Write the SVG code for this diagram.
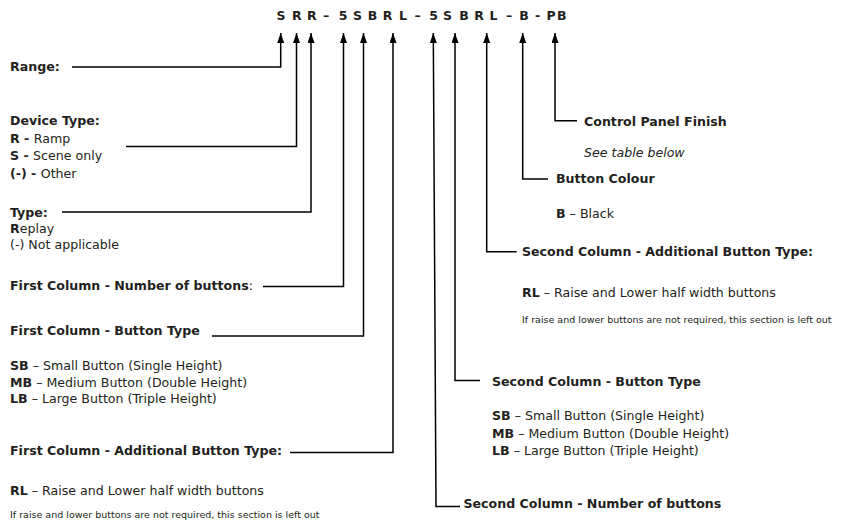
<svg xmlns="http://www.w3.org/2000/svg" width="849" height="520" viewBox="0 0 849 520">
<defs>
<style>
text{font-family:"DejaVu Sans","Verdana",sans-serif;fill:#231f20;font-size:12.6px}
.b{font-weight:bold}
.t{font-weight:bold;font-size:12.5px}
.s{font-size:9.5px}
.i{font-style:italic}
.c{fill:none;stroke:#000;stroke-width:1.5;marker-start:url(#ah)}
</style>
<marker id="ah" markerUnits="userSpaceOnUse" markerWidth="10" markerHeight="8" refX="10" refY="3.5" orient="auto-start-reverse">
<path d="M0,0 L10,3.5 L0,7 z" fill="#000"/>
</marker>
</defs>
<rect width="849" height="520" fill="#fff"/>
<g id="code">
<text class="t" text-anchor="middle" y="20" x="281 296.7 311.7 326 343 357.5 372.5 387.5 403 417.5 433.5 447.5 464 479 493.5 509 524 537.5 551 561.7">SRR–5SBRL–5SBRL–B-PB</text>
</g>
<g id="connectors">
<path class="c" d="M280.7,33 V67 H72"/>
<path class="c" d="M296.5,33 V146.5 H126"/>
<path class="c" d="M311,33 V212 H62"/>
<path class="c" d="M343.5,33 V286.5 H263"/>
<path class="c" d="M363.5,33 V336 H212"/>
<path class="c" d="M393,33 V452.5 H290"/>
<path class="c" d="M433.3,33 L436,506.5 H460"/>
<path class="c" d="M455,33 V380.5 H480"/>
<path class="c" d="M486.7,33 V251.7 H516.7"/>
<path class="c" d="M522.7,33 V179 H548"/>
<path class="c" d="M555,33 V120.7 H577"/>
</g>
<g id="range"><text class="b" x="10" y="71">Range:</text></g>
<g id="device-type">
<text class="b" x="10" y="125">Device Type:</text>
<text x="10" y="142.5"><tspan class="b">R - </tspan>Ramp</text>
<text x="10" y="160"><tspan class="b">S - </tspan>Scene only</text>
<text x="10" y="177.5"><tspan class="b">(-) - </tspan>Other</text>
</g>
<g id="type">
<text class="b" x="10" y="216.5">Type:</text>
<text x="10" y="232.5"><tspan class="b">R</tspan>eplay</text>
<text x="10" y="249">(-) Not applicable</text>
</g>
<g id="fc-number">
<text x="10" y="290"><tspan class="b">First Column - Number of buttons</tspan>:</text>
</g>
<g id="fc-button-type">
<text class="b" x="10" y="335">First Column - Button Type</text>
<text x="10" y="370"><tspan class="b">SB</tspan> – Small Button (Single Height)</text>
<text x="10" y="386.7"><tspan class="b">MB</tspan> – Medium Button (Double Height)</text>
<text x="10" y="403.3"><tspan class="b">LB</tspan> – Large Button (Triple Height)</text>
</g>
<g id="fc-additional">
<text class="b" x="10" y="455">First Column - Additional Button Type:</text>
<text x="10" y="495"><tspan class="b">RL</tspan> – Raise and Lower half width buttons</text>
<text class="s" x="10" y="518">If raise and lower buttons are not required, this section is left out</text>
</g>
<g id="panel-finish">
<text class="b" x="584" y="126">Control Panel Finish</text>
<text class="i" x="584" y="157">See table below</text>
</g>
<g id="button-colour">
<text class="b" x="556" y="183">Button Colour</text>
<text x="556" y="218"><tspan class="b">B</tspan> – Black</text>
</g>
<g id="sc-additional">
<text class="b" x="522" y="256">Second Column - Additional Button Type:</text>
<text x="522" y="297"><tspan class="b">RL</tspan> – Raise and Lower half width buttons</text>
<text class="s" x="522" y="323">If raise and lower buttons are not required, this section is left out</text>
</g>
<g id="sc-button-type">
<text class="b" x="492" y="386">Second Column - Button Type</text>
<text x="492" y="420"><tspan class="b">SB</tspan> – Small Button (Single Height)</text>
<text x="492" y="438"><tspan class="b">MB</tspan> – Medium Button (Double Height)</text>
<text x="492" y="455"><tspan class="b">LB</tspan> – Large Button (Triple Height)</text>
</g>
<g id="sc-number">
<text class="b" x="463.5" y="508">Second Column - Number of buttons</text>
</g>
</svg>
